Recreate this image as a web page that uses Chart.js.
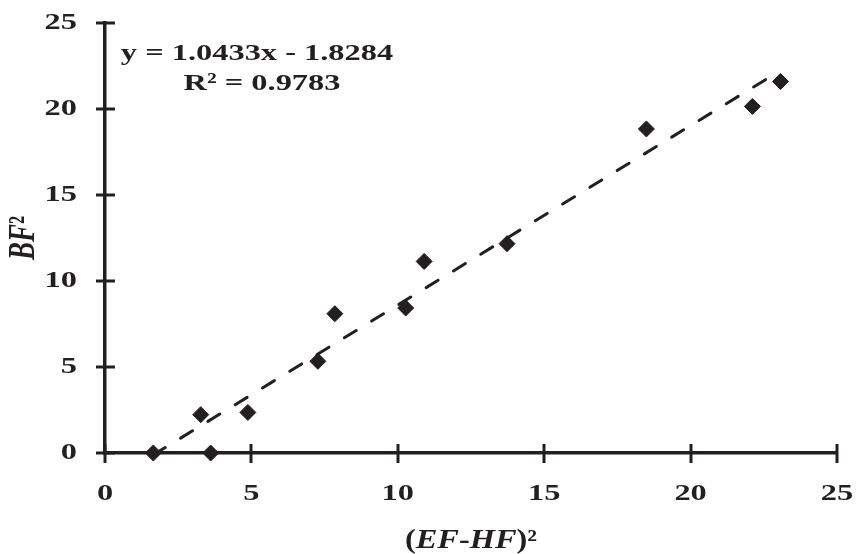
<!DOCTYPE html>
<html><head><meta charset="utf-8">
<script src="https://cdn.jsdelivr.net/npm/chart.js@4/dist/chart.umd.min.js"></script>
<style>html,body{margin:0;padding:0;background:#fff}#wrap{width:857px;height:554px}</style>
</head><body><div id="wrap"><canvas id="c" width="857" height="554"></canvas></div>
<script>
// ---- data ----
const xValues = [1.65, 3.27, 3.61, 4.88, 7.27, 7.85, 10.27, 10.90, 13.73, 18.49, 22.11, 23.07];
const yValues = [0.00, 2.23, 0.00, 2.36, 5.33, 8.10, 8.43, 11.14, 12.17, 18.84, 20.15, 21.60];
const xTicks = [0, 5, 10, 15, 20, 25];
const yTicks = [0, 5, 10, 15, 20, 25];
const slope = 1.0433;
const intercept = -1.8284;
const equationLines = ['y = 1.0433x - 1.8284', 'R\u00B2 = 0.9783'];
const xTitleParts = [['(', false], ['EF', true], ['-', false], ['HF', true], [')', false], ['\u00B2', false]];
const yTitleParts = [['BF', true], ['\u00B2', false]];

const INK = '#231f20';
const SERIF = '"Liberation Serif", "Times New Roman", serif';
const TICK_STRETCH = 1.35;

const canvas = document.getElementById('c');
const ctx = canvas.getContext('2d');
const rawFillText = ctx.fillText.bind(ctx);
// horizontally widened glyphs, as in the reference
ctx.fillText = function (t, x, y) {
  ctx.save(); ctx.translate(x, y); ctx.scale(TICK_STRETCH, 1); rawFillText(t, 0, 0); ctx.restore();
};

function drawParts(c, parts, x, y, size, sx) {
  let total = 0;
  const widths = parts.map(([t, it]) => {
    c.font = (it ? 'italic ' : '') + 'bold ' + size + 'px ' + SERIF;
    const w = c.measureText(t).width * sx; total += w; return w;
  });
  let cx = x - total / 2;
  parts.forEach(([t, it], i) => {
    c.font = (it ? 'italic ' : '') + 'bold ' + size + 'px ' + SERIF;
    c.save(); c.translate(cx, y); c.scale(sx, 1); rawFillText(t, 0, 0); c.restore();
    cx += widths[i];
  });
}

const decor = {
  id: 'decor',
  beforeDatasetsDraw(chart) {
    const c = chart.ctx, xs = chart.scales.x, ys = chart.scales.y;
    c.save();
    c.strokeStyle = INK; c.lineWidth = 3; c.lineCap = 'butt';
    const ax = xs.left, ay = ys.bottom;
    xs.ticks.forEach(t => {
      const px = Math.round(xs.getPixelForValue(t.value));
      c.beginPath(); c.moveTo(px, ay - 9); c.lineTo(px, ay + 10); c.stroke();
    });
    ys.ticks.forEach(t => {
      const py = Math.round(ys.getPixelForValue(t.value));
      c.beginPath(); c.moveTo(ax - 9, py); c.lineTo(ax + 10, py); c.stroke();
    });
    c.restore();
  },
  afterDraw(chart) {
    const c = chart.ctx, a = chart.chartArea;
    c.save();
    c.fillStyle = INK; c.textBaseline = 'alphabetic'; c.textAlign = 'left';
    // equation
    drawParts(c, [[equationLines[0], false]], 257, 60, 24, 1.35);
    drawParts(c, [[equationLines[1], false]], 262, 90, 24, 1.35);
    // x title
    drawParts(c, xTitleParts, (a.left + a.right) / 2, 548, 27, 1.2);
    // y title (rotated)
    c.save();
    c.translate(34, (a.top + a.bottom) / 2);
    c.scale(1.4, 1);
    c.rotate(-Math.PI / 2);
    drawParts(c, yTitleParts, 0, 0, 27, 1);
    c.restore();
    c.restore();
  }
};

new Chart(ctx, {
  type: 'scatter',
  data: {
    datasets: [
      {
        type: 'line',
        data: [
          { x: Math.min(...xValues), y: slope * Math.min(...xValues) + intercept },
          { x: Math.max(...xValues), y: slope * Math.max(...xValues) + intercept }
        ],
        borderColor: INK, borderWidth: 3, borderDash: [14, 18], borderCapStyle: 'round',
        pointRadius: 0, fill: false, clip: false, tension: 0
      },
      {
        data: xValues.map((x, i) => ({ x, y: yValues[i] })),
        pointStyle: 'rectRot', pointRadius: 8, pointHoverRadius: 8,
        backgroundColor: INK, borderColor: INK, borderWidth: 1, clip: false
      }
    ]
  },
  options: {
    responsive: false, animation: false, devicePixelRatio: 1,
    layout: { padding: { top: 23, right: 20, left: 0, bottom: 0 } },
    plugins: { legend: { display: false }, tooltip: { enabled: false } },
    scales: {
      x: {
        type: 'linear', min: 0, max: 25,
        afterBuildTicks: s => { s.ticks = xTicks.map(v => ({ value: v })); },
        afterFit: s => { s.height = 101; s.paddingLeft = 0; s.paddingRight = 0; s.paddingTop = 0; s.paddingBottom = 0; },
        grid: { display: false, drawTicks: false },
        border: { display: true, color: INK, width: 3.5 },
        ticks: { color: INK, padding: 26, maxRotation: 0, font: { family: SERIF, weight: 'bold', size: 24 } }
      },
      y: {
        type: 'linear', min: 0, max: 25,
        afterBuildTicks: s => { s.ticks = yTicks.map(v => ({ value: v })); },
        afterFit: s => { s.width = 105; s.paddingLeft = 0; s.paddingRight = 0; s.paddingTop = 0; s.paddingBottom = 0; },
        grid: { display: false, drawTicks: false },
        border: { display: true, color: INK, width: 3.5 },
        ticks: { color: INK, padding: 28, font: { family: SERIF, weight: 'bold', size: 24 } }
      }
    }
  },
  plugins: [decor]
});
</script>
</body></html>
